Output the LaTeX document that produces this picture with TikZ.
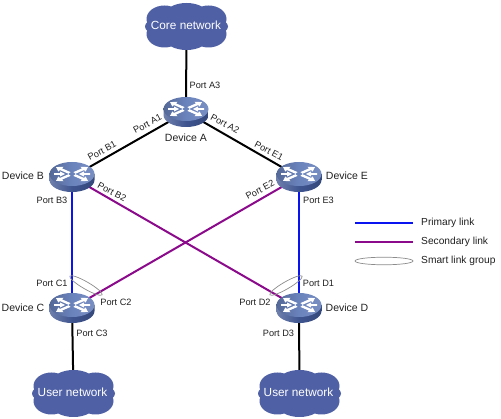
\documentclass[tikz,border=0pt]{standalone}
\usepackage{fontspec}
\setmainfont{Liberation Sans}
\definecolor{cloudblue}{HTML}{4F60A5}
\definecolor{devtop}{HTML}{6A83BC}
\definecolor{devside}{HTML}{3F5590}
\definecolor{purp}{HTML}{8B0A8B}
\definecolor{prim}{HTML}{0A14F0}
\definecolor{grp}{HTML}{8C8C8C}
\definecolor{txt}{HTML}{202020}
\tikzset{
 x=1pt,y=-1pt,
 plink/.style={prim,line width=2pt},
 slink/.style={purp,line width=2pt},
 blink/.style={black,line width=2pt},
 grpring/.style={grp,line width=0.7pt},
 port/.style={font=\fontsize{9.2}{10}\selectfont,text=txt,inner sep=0pt},
 devname/.style={font=\fontsize{10.5}{12}\selectfont,text=txt,inner sep=0pt},
 cloudname/.style={font=\fontsize{11.8}{13}\selectfont,text=white,inner sep=0pt},
 legendtext/.style={font=\fontsize{10.2}{12}\selectfont,text=txt,inner sep=0pt,anchor=west},
 switchpic/.pic={
  \shade[left color=devside!75!white,right color=devside!85!black,middle color=devside]
    (-22.5,-3) -- (-22.5,3) arc[start angle=180,end angle=0,x radius=22.5,y radius=12] -- (22.5,-3) -- cycle;
  \shade[left color=devtop!80!black,right color=devtop!90!white,middle color=devtop] (0,-3) ellipse[x radius=22.5,y radius=12];
  \begin{scope}[shift={(0,-3)},yscale=0.62]
   \foreach \a in {35,145,215,325}{
    \begin{scope}[rotate=\a]
     \fill[white] (19.5,0) -- (13.5,-4.6) -- (13.5,-1.7) -- (3,-1.7) -- (3,1.7) -- (13.5,1.7) -- (13.5,4.6) -- cycle;
    \end{scope}
   }
   \foreach \a in {0,180}{
    \begin{scope}[rotate=\a]
     \fill[white] (7,0) -- (12,-4.2) -- (12,-1.6) -- (18,-1.6) -- (18,1.6) -- (12,1.6) -- (12,4.2) -- cycle;
    \end{scope}
   }
  \end{scope}
 },
 cloudpic/.pic={
  \fill[cloudblue]
   (0,0) ellipse[x radius=41.5,y radius=13]
   (-22,-7.5) ellipse[x radius=18,y radius=13.5]
   (22,-7.5) ellipse[x radius=18,y radius=13.5]
   (-22,7.5) ellipse[x radius=18,y radius=13.5]
   (22,7.5) ellipse[x radius=18,y radius=13.5]
   (0,-11) ellipse[x radius=22,y radius=12.5]
   (0,11) ellipse[x radius=22,y radius=12.5];
 }
}
\begin{document}
\begin{tikzpicture}
\useasboundingbox (0,0) rectangle (501,419);
\fill[white] (0,0) rectangle (501,419);
\coordinate (core) at (186.5,26.5);
\coordinate (userc) at (73.5,393.5);
\coordinate (userd) at (299.5,393.5);
\coordinate (A) at (186,112);
\coordinate (B) at (72,177);
\coordinate (E) at (299,177);
\coordinate (C) at (72,308);
\coordinate (D) at (299,308);
\draw[blink] (core) -- (A);
\draw[blink] (A) -- (B);
\draw[blink] (A) -- (E);
\draw[blink] (C) -- (userc);
\draw[blink] (D) -- (userd);
\draw[plink] (B) -- (C);
\draw[plink] (E) -- (D);
\draw[slink] (B) -- (D);
\draw[slink] (E) -- (C);
\pic at (core) {cloudpic};
\pic at (userc) {cloudpic};
\pic at (userd) {cloudpic};
\pic at (A) {switchpic};
\pic at (B) {switchpic};
\pic at (E) {switchpic};
\pic at (C) {switchpic};
\pic at (D) {switchpic};
\draw[grpring,rotate around={-30:(86,285.5)}] (86,285.5) ellipse[x radius=18.6,y radius=3.6];
\draw[grpring,rotate around={30:(286,285.5)}] (286,285.5) ellipse[x radius=18.6,y radius=3.6];
\node[cloudname] (tcore) at (186,25) {Core network};
\node[cloudname] (tuc) at (72.5,392.5) {User network};
\node[cloudname] (tud) at (298.5,392.5) {User network};
\node[devname] (dA) at (186,137.5) {Device A};
\node[devname] (dB) at (23,176) {Device B};
\node[devname] (dC) at (23,307.5) {Device C};
\node[devname] (dD) at (347,307.5) {Device D};
\node[devname] (dE) at (347,176) {Device E};
\node[port] (a3) at (205,85) {Port A3};
\node[port,rotate=28] (a1) at (147.5,124) {Port A1};
\node[port,rotate=-28] (a2) at (225,124) {Port A2};
\node[port,rotate=28] (b1) at (102,151) {Port B1};
\node[port,rotate=-28] (b2) at (112,192) {Port B2};
\node[port] (b3) at (52,200) {Port B3};
\node[port,rotate=-28] (e1) at (269,151) {Port E1};
\node[port,rotate=28] (e2) at (260,190) {Port E2};
\node[port] (e3) at (318.5,200) {Port E3};
\node[port] (c1) at (52,283) {Port C1};
\node[port] (c2) at (116,302) {Port C2};
\node[port] (c3) at (92,333) {Port C3};
\node[port] (d1) at (318.5,283) {Port D1};
\node[port] (d2) at (255,302) {Port D2};
\node[port] (d3) at (278.5,333) {Port D3};
\coordinate (l1a) at (355,223);
\coordinate (l1b) at (413,223);
\coordinate (l2a) at (355,242);
\coordinate (l2b) at (413,242);
\draw[plink] (l1a) -- (l1b);
\draw[slink] (l2a) -- (l2b);
\draw[grpring] (384,261) ellipse[x radius=29,y radius=3.8];
\node[legendtext] (t1) at (421,223) {Primary link};
\node[legendtext] (t2) at (421,242) {Secondary link};
\node[legendtext] (t3) at (421,260.5) {Smart link group};
\end{tikzpicture}
\end{document}
